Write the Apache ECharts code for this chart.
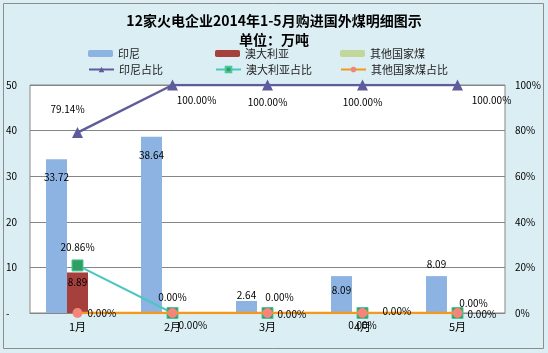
<!DOCTYPE html>
<html>
<head>
<meta charset="utf-8">
<script src="https://cdn.jsdelivr.net/npm/echarts@6/dist/echarts.min.js"></script>
<style>
  html, body { margin: 0; padding: 0; background: #fff; }
  #chart { width: 548px; height: 353px; }
</style>
</head>
<body>
<div id="chart"></div>
<script>
// 数据
const months = ['1月', '2月', '3月', '4月', '5月']
const indonesia = [33.72, 38.64, 2.64, 8.09, 8.09]
const australia = [8.89, 0, 0, 0, 0]
const others = [0, 0, 0, 0, 0]
const indonesiaRatio = [79.14, 100, 100, 100, 100]
const australiaRatio = [20.86, 0, 0, 0, 0]
const othersRatio = [0, 0, 0, 0, 0]

const font = '"Noto Sans CJK SC", sans-serif'
const labelStyle = { fontFamily: font, fontSize: 10, color: '#000' }

// per-point label placement
function withLabels(values, positions, fmt) {
  return values.map((v, i) => ({
    value: v,
    label: Object.assign({ show: true, formatter: fmt }, labelStyle, positions[i])
  }))
}

const chart = echarts.init(document.getElementById('chart'))

const pct = p => p.value.toFixed(2) + '%'
const num = p => p.value.toFixed(2)

chart.setOption({
  backgroundColor: '#DBEEF4',
  animation: false,
  title: [{
    text: '12家火电企业2014年1-5月购进国外煤明细图示',
    left: 'center',
    top: 9,
    textStyle: { fontFamily: font, fontSize: 14, fontWeight: 'bold', color: '#000' }
  }, {
    text: '单位：万吨',
    left: 'center',
    top: 28,
    textStyle: { fontFamily: font, fontSize: 14, fontWeight: 'bold', color: '#000' }
  }],
  graphic: [{
    type: 'rect',
    shape: { x: 3.5, y: 3.5, width: 540, height: 345 },
    style: { fill: 'none', stroke: '#8c8c8c', lineWidth: 1 },
    silent: true
  }],
  legend: [
    { data: ['印尼'], left: 88, top: 48 },
    { data: ['澳大利亚'], left: 215, top: 48 },
    { data: ['其他国家煤'], left: 340, top: 48 },
    { data: ['印尼占比'], left: 88, top: 64 },
    { data: ['澳大利亚占比'], left: 215, top: 64 },
    { data: ['其他国家煤占比'], left: 340, top: 64 }
  ].map(l => Object.assign({
    itemWidth: 25, itemHeight: 7, itemGap: 6, padding: 0,
    textStyle: { fontFamily: font, fontSize: 11, color: '#222' }
  }, l)),
  grid: {
    left: 30, right: 43, top: 85, bottom: 40,
    show: true, backgroundColor: '#fff', borderColor: '#868686', borderWidth: 1
  },
  xAxis: {
    type: 'category',
    data: months,
    axisLine: { lineStyle: { color: '#868686' } },
    axisTick: { show: false },
    axisLabel: { fontFamily: font, fontSize: 11, color: '#000', margin: 8 }
  },
  yAxis: [{
    type: 'value',
    min: 0, max: 50, interval: 10,
    axisLine: { show: false },
    axisTick: { show: false },
    splitLine: { lineStyle: { color: '#868686' } },
    axisLabel: {
      fontFamily: font, fontSize: 10, color: '#000', margin: 24, align: 'left',
      formatter: v => v === 0 ? '-' : v
    }
  }, {
    type: 'value',
    min: 0, max: 100, interval: 20,
    axisLine: { show: false },
    axisTick: { show: false },
    splitLine: { show: false },
    axisLabel: {
      fontFamily: font, fontSize: 10, color: '#000', margin: 10,
      formatter: '{value}%'
    }
  }],
  series: [{
    name: '印尼',
    type: 'bar',
    barWidth: 21,
    barGap: '0%',
    itemStyle: { color: '#8DB3E2' },
    data: withLabels(indonesia, [
      { position: 'insideTop', offset: [0, 8] },
      { position: 'insideTop', offset: [0, 8] },
      { position: 'top', offset: [0, 4] },
      { position: 'insideTop', offset: [0, 4] },
      { position: 'top', offset: [0, -2] }
    ], num)
  }, {
    name: '澳大利亚',
    type: 'bar',
    barWidth: 21,
    itemStyle: { color: '#A5403D' },
    data: withLabels(australia, [
      { position: 'insideTop', offset: [0, 0] },
      { show: false }, { show: false }, { show: false }, { show: false }
    ], num)
  }, {
    name: '其他国家煤',
    type: 'bar',
    barWidth: 21,
    itemStyle: { color: '#C3D69B' },
    data: others
  }, {
    name: '印尼占比',
    type: 'line',
    yAxisIndex: 1,
    symbol: 'triangle',
    symbolSize: 11,
    lineStyle: { color: '#5E5C9C', width: 2.5 },
    itemStyle: { color: '#5E5C9C' },
    data: withLabels(indonesiaRatio, [
      { position: 'top', offset: [-10, -8] },
      { position: 'bottom', offset: [24, 0] },
      { position: 'bottom', offset: [0, 2] },
      { position: 'bottom', offset: [0, 2] },
      { position: 'bottom', offset: [34, 0] }
    ], pct)
  }, {
    name: '澳大利亚占比',
    type: 'line',
    yAxisIndex: 1,
    symbol: 'rect',
    symbolSize: 11,
    lineStyle: { color: '#4BC6C0', width: 2 },
    itemStyle: { color: '#2E9E62', borderColor: '#49C799', borderWidth: 1 },
    data: withLabels(australiaRatio, [
      { position: 'top', offset: [0, -2] },
      { position: 'top', offset: [0, 0] },
      { position: 'top', offset: [12, 0] },
      { position: 'bottom', offset: [0, -4] },
      { position: 'top', offset: [16, 6] }
    ], pct)
  }, {
    name: '其他国家煤占比',
    type: 'line',
    yAxisIndex: 1,
    symbol: 'circle',
    symbolSize: 10,
    z: 5,
    lineStyle: { color: '#F39A1E', width: 2.5 },
    itemStyle: { color: '#F4857A', borderColor: '#F39A1E', borderWidth: 0 },
    data: withLabels(othersRatio, [
      { position: 'right', offset: [0, 0] },
      { position: 'right', offset: [-4, 12] },
      { position: 'right', offset: [0, 1] },
      { position: 'right', offset: [10, -2] },
      { position: 'right', offset: [0, 1] }
    ], pct)
  }]
})
</script>
</body>
</html>
